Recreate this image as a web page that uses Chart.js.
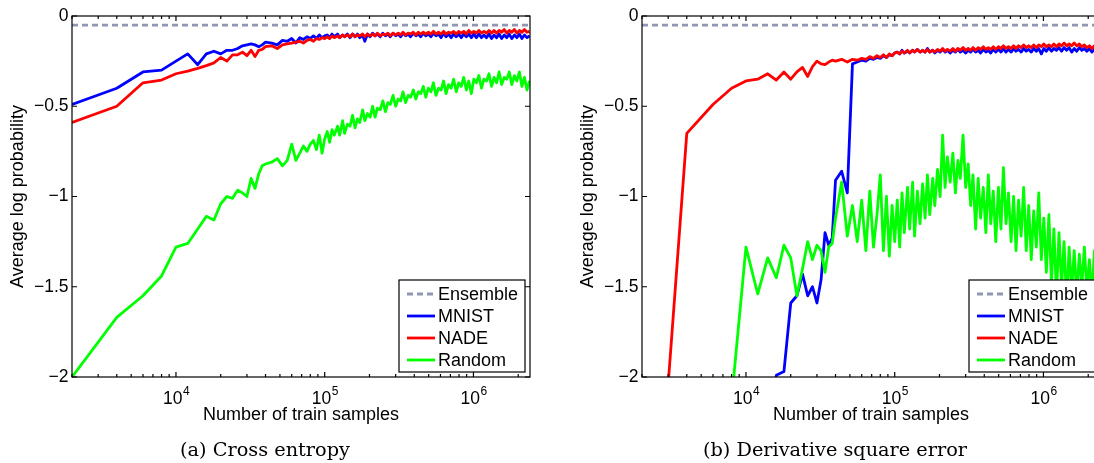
<!DOCTYPE html>
<html>
<head>
<meta charset="utf-8">
<script src="https://cdn.jsdelivr.net/npm/chart.js@4.4.1/dist/chart.umd.min.js"></script>
<style>
  html, body { margin: 0; padding: 0; background: #fff; overflow: hidden; }
  #wrap { position: relative; width: 1094px; height: 463px; overflow: hidden; }
  canvas { position: absolute; top: 0; }
  #chartA { left: 0; }
  #chartB { left: 570px; }
  .caption { position: absolute; top: 439px; font-family: 'DejaVu Serif', serif; font-size: 19.3px; line-height: 22px; white-space: nowrap; transform: translateX(-50%); }
</style>
</head>
<body>
<div id="wrap">
  <canvas id="chartA" width="545" height="463"></canvas>
  <canvas id="chartB" width="545" height="463"></canvas>
  <div class="caption" style="left:265px">(a) Cross entropy</div>
  <div class="caption" style="left:835px">(b) Derivative square error</div>
</div>
<script>
// numero de amostras de treino (eixo x)
const amostras = [
  2000, 4000, 6000, 8000, 10000, 12000, 14000, 16000, 18000, 20000,
  22000, 24000, 26000, 28000, 30000, 32000, 34000, 36000, 38000, 40000,
  44000, 48000, 52000, 56000, 60000, 64000, 68000, 72000, 76000, 80000,
  84000, 88000, 92000, 96000, 100000,
  104000, 108000, 112000, 116000, 122000, 126000, 132000, 136000, 142000, 148000,
  154000, 160000, 166000, 172000, 180000, 186000, 194000, 202000, 210000, 218000,
  226000, 236000, 246000, 256000, 266000, 276000, 288000, 300000, 312000, 324000,
  336000, 350000, 364000, 378000, 394000, 410000, 426000, 442000, 460000, 478000,
  498000, 518000, 538000, 560000, 582000, 606000, 630000, 654000, 680000, 708000,
  736000, 766000, 796000, 828000, 860000, 896000, 930000, 968000, 1006000, 1046000,
  1088000, 1132000, 1176000, 1224000, 1272000, 1324000, 1376000, 1432000, 1488000, 1548000,
  1610000, 1674000, 1742000, 1810000, 1884000, 1958000, 2036000, 2118000, 2202000, 2290000,
  2380000
];
const limitesX = [2000, 2400000];
const ensemble = -0.05;
const ticksY = [-2, -1.5, -1, -0.5, 0];

// (a) Cross entropy
const ceMnist = [
  -0.49, -0.40, -0.31, -0.30, -0.25, -0.21, -0.27, -0.21, -0.195, -0.21,
  -0.19, -0.19, -0.18, -0.165, -0.16, -0.155, -0.16, -0.17, -0.16, -0.145,
  -0.15, -0.16, -0.135, -0.14, -0.125, -0.15, -0.12, -0.13, -0.115, -0.125,
  -0.11, -0.125, -0.105, -0.12, -0.11,
  -0.105, -0.12, -0.10, -0.115, -0.10, -0.12, -0.105, -0.115, -0.10, -0.12,
  -0.10, -0.115, -0.10, -0.12, -0.105, -0.14, -0.10, -0.115, -0.095, -0.11,
  -0.10, -0.115, -0.095, -0.11, -0.10, -0.115, -0.095, -0.11, -0.10, -0.115,
  -0.095, -0.11, -0.10, -0.115, -0.095, -0.11, -0.10, -0.115, -0.095, -0.11,
  -0.10, -0.115, -0.095, -0.11, -0.10, -0.12, -0.095, -0.115, -0.10, -0.12,
  -0.10, -0.115, -0.10, -0.12, -0.10, -0.115, -0.10, -0.12, -0.10, -0.12,
  -0.10, -0.12, -0.105, -0.12, -0.10, -0.125, -0.105, -0.12, -0.10, -0.125,
  -0.105, -0.12, -0.10, -0.125, -0.105, -0.12, -0.10, -0.125, -0.105, -0.12,
  -0.11
];
const ceNade = [
  -0.59, -0.50, -0.37, -0.355, -0.32, -0.305, -0.29, -0.275, -0.26, -0.23,
  -0.25, -0.215, -0.215, -0.20, -0.22, -0.19, -0.225, -0.19, -0.185, -0.17,
  -0.165, -0.18, -0.16, -0.155, -0.15, -0.145, -0.14, -0.15, -0.135, -0.13,
  -0.14, -0.125, -0.13, -0.12, -0.125,
  -0.115, -0.125, -0.11, -0.12, -0.11, -0.12, -0.105, -0.115, -0.105, -0.115,
  -0.10, -0.115, -0.105, -0.11, -0.10, -0.115, -0.10, -0.11, -0.10, -0.11,
  -0.095, -0.11, -0.10, -0.105, -0.095, -0.11, -0.095, -0.105, -0.095, -0.105,
  -0.09, -0.105, -0.095, -0.10, -0.09, -0.105, -0.09, -0.10, -0.09, -0.10,
  -0.09, -0.10, -0.085, -0.10, -0.09, -0.10, -0.085, -0.10, -0.09, -0.095,
  -0.085, -0.10, -0.085, -0.095, -0.085, -0.10, -0.08, -0.095, -0.085, -0.095,
  -0.08, -0.095, -0.085, -0.095, -0.08, -0.095, -0.08, -0.095, -0.08, -0.09,
  -0.075, -0.095, -0.08, -0.09, -0.075, -0.095, -0.08, -0.09, -0.075, -0.09,
  -0.085
];
const ceRandom = [
  -2.0, -1.67, -1.55, -1.44, -1.28, -1.26, -1.18, -1.11, -1.13, -1.04,
  -1.0, -1.01, -0.965, -0.98, -1.0, -0.9, -0.955, -0.875, -0.83, -0.82,
  -0.81, -0.79, -0.83, -0.80, -0.71, -0.80, -0.76, -0.72, -0.75, -0.71,
  -0.69, -0.74, -0.66, -0.76, -0.68,
  -0.64, -0.70, -0.63, -0.66, -0.61, -0.66, -0.58, -0.65, -0.60, -0.61,
  -0.55, -0.62, -0.57, -0.59, -0.52, -0.58, -0.54, -0.56, -0.50, -0.56,
  -0.51, -0.52, -0.47, -0.53, -0.48, -0.49, -0.44, -0.50, -0.46, -0.47,
  -0.42, -0.48, -0.44, -0.45, -0.41, -0.46, -0.42, -0.43, -0.39, -0.45,
  -0.40, -0.42, -0.37, -0.44, -0.40, -0.41, -0.36, -0.43, -0.38, -0.40,
  -0.35, -0.42, -0.37, -0.39, -0.34, -0.41, -0.36, -0.43, -0.35, -0.37,
  -0.33, -0.40, -0.35, -0.36, -0.32, -0.39, -0.34, -0.37, -0.31, -0.38,
  -0.34, -0.35, -0.31, -0.38, -0.33, -0.36, -0.31, -0.39, -0.34, -0.41,
  -0.36
];

// (b) Derivative square error
const dsMnist = [
  null, null, null, null, null, null, -3.0, -1.99, -1.97, -1.59,
  -1.55, -1.43, -1.55, -1.50, -1.59, -1.46, -1.20, -1.27, -1.23, -0.91,
  -0.86, -0.98, -0.265, -0.255, -0.245, -0.25, -0.235, -0.24, -0.23, -0.235,
  -0.22, -0.23, -0.215, -0.22, -0.205,
  -0.20, -0.21, -0.19, -0.205, -0.195, -0.205, -0.19, -0.20, -0.185, -0.20,
  -0.19, -0.20, -0.18, -0.20, -0.19, -0.205, -0.19, -0.20, -0.185, -0.20,
  -0.19, -0.205, -0.19, -0.20, -0.185, -0.20, -0.19, -0.205, -0.19, -0.20,
  -0.185, -0.20, -0.19, -0.205, -0.185, -0.20, -0.19, -0.205, -0.185, -0.20,
  -0.185, -0.20, -0.18, -0.20, -0.185, -0.20, -0.18, -0.195, -0.185, -0.20,
  -0.18, -0.195, -0.185, -0.20, -0.18, -0.195, -0.18, -0.21, -0.18, -0.195,
  -0.175, -0.195, -0.18, -0.19, -0.175, -0.195, -0.175, -0.19, -0.175, -0.20,
  -0.18, -0.195, -0.175, -0.19, -0.18, -0.195, -0.18, -0.20, -0.18, -0.195,
  -0.19
];
const dsNade = [
  -4.0, -0.65, -0.49, -0.40, -0.36, -0.35, -0.32, -0.355, -0.31, -0.35,
  -0.31, -0.285, -0.335, -0.28, -0.25, -0.265, -0.27, -0.255, -0.245, -0.25,
  -0.24, -0.255, -0.24, -0.245, -0.235, -0.24, -0.225, -0.235, -0.22, -0.23,
  -0.215, -0.23, -0.21, -0.22, -0.205,
  -0.20, -0.21, -0.195, -0.205, -0.19, -0.205, -0.19, -0.20, -0.185, -0.20,
  -0.19, -0.20, -0.185, -0.20, -0.19, -0.20, -0.185, -0.195, -0.18, -0.195,
  -0.185, -0.195, -0.18, -0.195, -0.18, -0.19, -0.175, -0.19, -0.18, -0.19,
  -0.175, -0.19, -0.175, -0.185, -0.17, -0.185, -0.175, -0.185, -0.17, -0.185,
  -0.17, -0.18, -0.165, -0.18, -0.17, -0.18, -0.165, -0.18, -0.165, -0.175,
  -0.16, -0.175, -0.165, -0.175, -0.16, -0.175, -0.16, -0.17, -0.155, -0.17,
  -0.16, -0.17, -0.155, -0.17, -0.155, -0.165, -0.15, -0.165, -0.155, -0.165,
  -0.15, -0.165, -0.155, -0.17, -0.16, -0.175, -0.165, -0.18, -0.165, -0.18,
  -0.175
];
const dsRandom = [
  null, null, -3.0, -2.13, -1.28, -1.54, -1.34, -1.45, -1.27, -1.34,
  -1.55, -1.40, -1.25, -1.35, -1.27, -1.30, -1.42, -1.28, -1.26, -1.12,
  -0.92, -1.22, -1.05, -1.25, -1.02, -1.30, -0.97, -1.28, -1.10, -0.88,
  -1.30, -1.0, -1.33, -1.05, -1.25,
  -1.02, -1.28, -0.98, -1.20, -0.95, -1.18, -0.92, -1.22, -0.97, -1.15,
  -0.93, -1.12, -0.88, -1.10, -0.90, -1.05, -0.85, -1.0, -0.66, -0.95,
  -0.78, -0.92, -0.76, -0.98, -0.80, -0.90, -0.66, -0.95, -0.82, -1.05,
  -0.88, -1.18, -0.90, -1.12, -0.95, -1.20, -0.88, -1.15, -0.97, -1.25,
  -0.95, -1.18, -0.84, -1.15, -0.98, -1.25, -1.0, -1.30, -1.02, -1.22,
  -0.95, -1.30, -1.05, -1.35, -1.08, -1.28, -0.98, -1.35, -1.12, -1.42,
  -1.10, -1.48, -1.18, -1.55, -1.20, -1.50, -1.25, -1.60, -1.28, -1.52,
  -1.30, -1.55, -1.32, -1.50, -1.28, -1.52, -1.35, -1.55, -1.30, -1.50,
  -1.40
];

const expoente = { 4: '4', 5: '5', 6: '6' };

function potenciaDe10(valor) {
  const e = Math.round(Math.log10(valor));
  return Math.abs(valor - Math.pow(10, e)) < 1e-6 * valor ? e : null;
}

// caixa, ticks para dentro e rotulos 10^n, estilo matlab
const eixosMatlab = {
  id: 'eixosMatlab',
  afterDatasetsDraw(chart) {
    const { ctx, chartArea: a, scales: { x, y } } = chart;
    ctx.save();
    ctx.strokeStyle = '#000';
    ctx.lineWidth = 1.2;
    ctx.beginPath();
    y.ticks.forEach(t => {
      const py = y.getPixelForValue(t.value);
      ctx.moveTo(a.left, py); ctx.lineTo(a.left + 5, py);
      ctx.moveTo(a.right, py); ctx.lineTo(a.right - 5, py);
    });
    x.ticks.forEach(t => {
      const e = Math.floor(Math.log10(t.value) + 1e-9);
      const m = t.value / Math.pow(10, e);
      if (Math.abs(m - Math.round(m)) > 1e-6) return;
      const len = Math.round(m) === 1 ? 5 : 3;
      const px = x.getPixelForValue(t.value);
      ctx.moveTo(px, a.bottom); ctx.lineTo(px, a.bottom - len);
      ctx.moveTo(px, a.top); ctx.lineTo(px, a.top + len);
    });
    ctx.stroke();
    ctx.strokeRect(a.left, a.top, a.right - a.left, a.bottom - a.top);

    ctx.fillStyle = '#000';
    ctx.textAlign = 'left';
    ctx.textBaseline = 'alphabetic';
    x.ticks.forEach(t => {
      const e = potenciaDe10(t.value);
      if (e === null || !expoente[e]) return;
      const px = x.getPixelForValue(t.value);
      ctx.font = '17.5px "Liberation Sans", Arial, sans-serif';
      ctx.fillText('10', px - 13, a.bottom + 27);
      ctx.font = '12px "Liberation Sans", Arial, sans-serif';
      ctx.fillText(expoente[e], px + 7, a.bottom + 18);
    });
    ctx.restore();
  }
};

// legenda dentro do grafico, canto inferior direito
const legendaMatlab = {
  id: 'legendaMatlab',
  afterDraw(chart) {
    const { ctx, chartArea: a } = chart;
    const w = 126, h = 92;
    const x0 = a.right - 5 - w, y0 = a.bottom - 5 - h;
    ctx.save();
    ctx.fillStyle = '#fff';
    ctx.fillRect(x0, y0, w, h);
    ctx.strokeStyle = '#000';
    ctx.lineWidth = 1.2;
    ctx.strokeRect(x0, y0, w, h);
    ctx.font = '18px "Liberation Sans", Arial, sans-serif';
    ctx.textBaseline = 'middle';
    chart.data.datasets.forEach((ds, i) => {
      const yy = y0 + 14 + i * 22;
      ctx.strokeStyle = ds.borderColor;
      ctx.lineWidth = 2.8;
      ctx.setLineDash(ds.borderDash || []);
      ctx.beginPath();
      ctx.moveTo(x0 + 8, yy);
      ctx.lineTo(x0 + 36, yy);
      ctx.stroke();
      ctx.setLineDash([]);
      ctx.fillStyle = '#000';
      ctx.fillText(ds.label, x0 + 39, yy + 1);
    });
    ctx.restore();
  }
};

Chart.defaults.font.family = '"Liberation Sans", Arial, sans-serif';
Chart.defaults.color = '#000';

function plotarGrafico(id, mnist, nade, random) {
  const pontos = ys => amostras.map((x, i) => ({ x: x, y: ys[i] }));
  const ctx = document.getElementById(id).getContext('2d');
  return new Chart(ctx, {
    type: 'line',
    data: {
      datasets: [
        { label: 'Ensemble', data: limitesX.map(x => ({ x: x, y: ensemble })), borderColor: '#8f97b3', borderDash: [6, 4], order: 4 },
        { label: 'MNIST', data: pontos(mnist), borderColor: '#0000ff', order: 3 },
        { label: 'NADE', data: pontos(nade), borderColor: '#ff0000', order: 2 },
        { label: 'Random', data: pontos(random), borderColor: '#00ff00', order: 1 }
      ]
    },
    options: {
      responsive: false,
      animation: false,
      devicePixelRatio: 1,
      layout: { padding: { left: 0, top: 16, right: 15, bottom: 37 } },
      elements: {
        point: { radius: 0 },
        line: { borderWidth: 2.8, tension: 0, borderJoinStyle: 'round' }
      },
      plugins: { legend: { display: false }, tooltip: { enabled: false } },
      scales: {
        x: {
          type: 'logarithmic',
          min: limitesX[0],
          max: limitesX[1],
          grid: { display: false, drawTicks: false },
          border: { display: false },
          // rotulos 10^n desenhados pelo plugin (expoente elevado)
          ticks: { autoSkip: false, maxRotation: 0, minRotation: 0, padding: 9, font: { size: 17.5 }, callback: () => '' },
          title: { display: true, text: 'Number of train samples', font: { size: 18 }, padding: { top: 0, bottom: 0 } },
          afterFit: s => { s.height = 49; }
        },
        y: {
          min: ticksY[0],
          max: ticksY[ticksY.length - 1],
          grid: { display: false, drawTicks: false },
          border: { display: false },
          afterBuildTicks: s => { s.ticks = ticksY.map(v => ({ value: v })); },
          ticks: { padding: 3.5, font: { size: 17.5 }, callback: v => v === 0 ? '0' : '\u2212' + Math.abs(v) },
          title: { display: true, text: 'Average log probability', font: { size: 18 }, padding: { top: 7, bottom: 0 } },
          afterFit: s => { s.width = 72; }
        }
      }
    },
    plugins: [eixosMatlab, legendaMatlab]
  });
}

plotarGrafico('chartA', ceMnist, ceNade, ceRandom);
plotarGrafico('chartB', dsMnist, dsNade, dsRandom);
</script>
</body>
</html>
